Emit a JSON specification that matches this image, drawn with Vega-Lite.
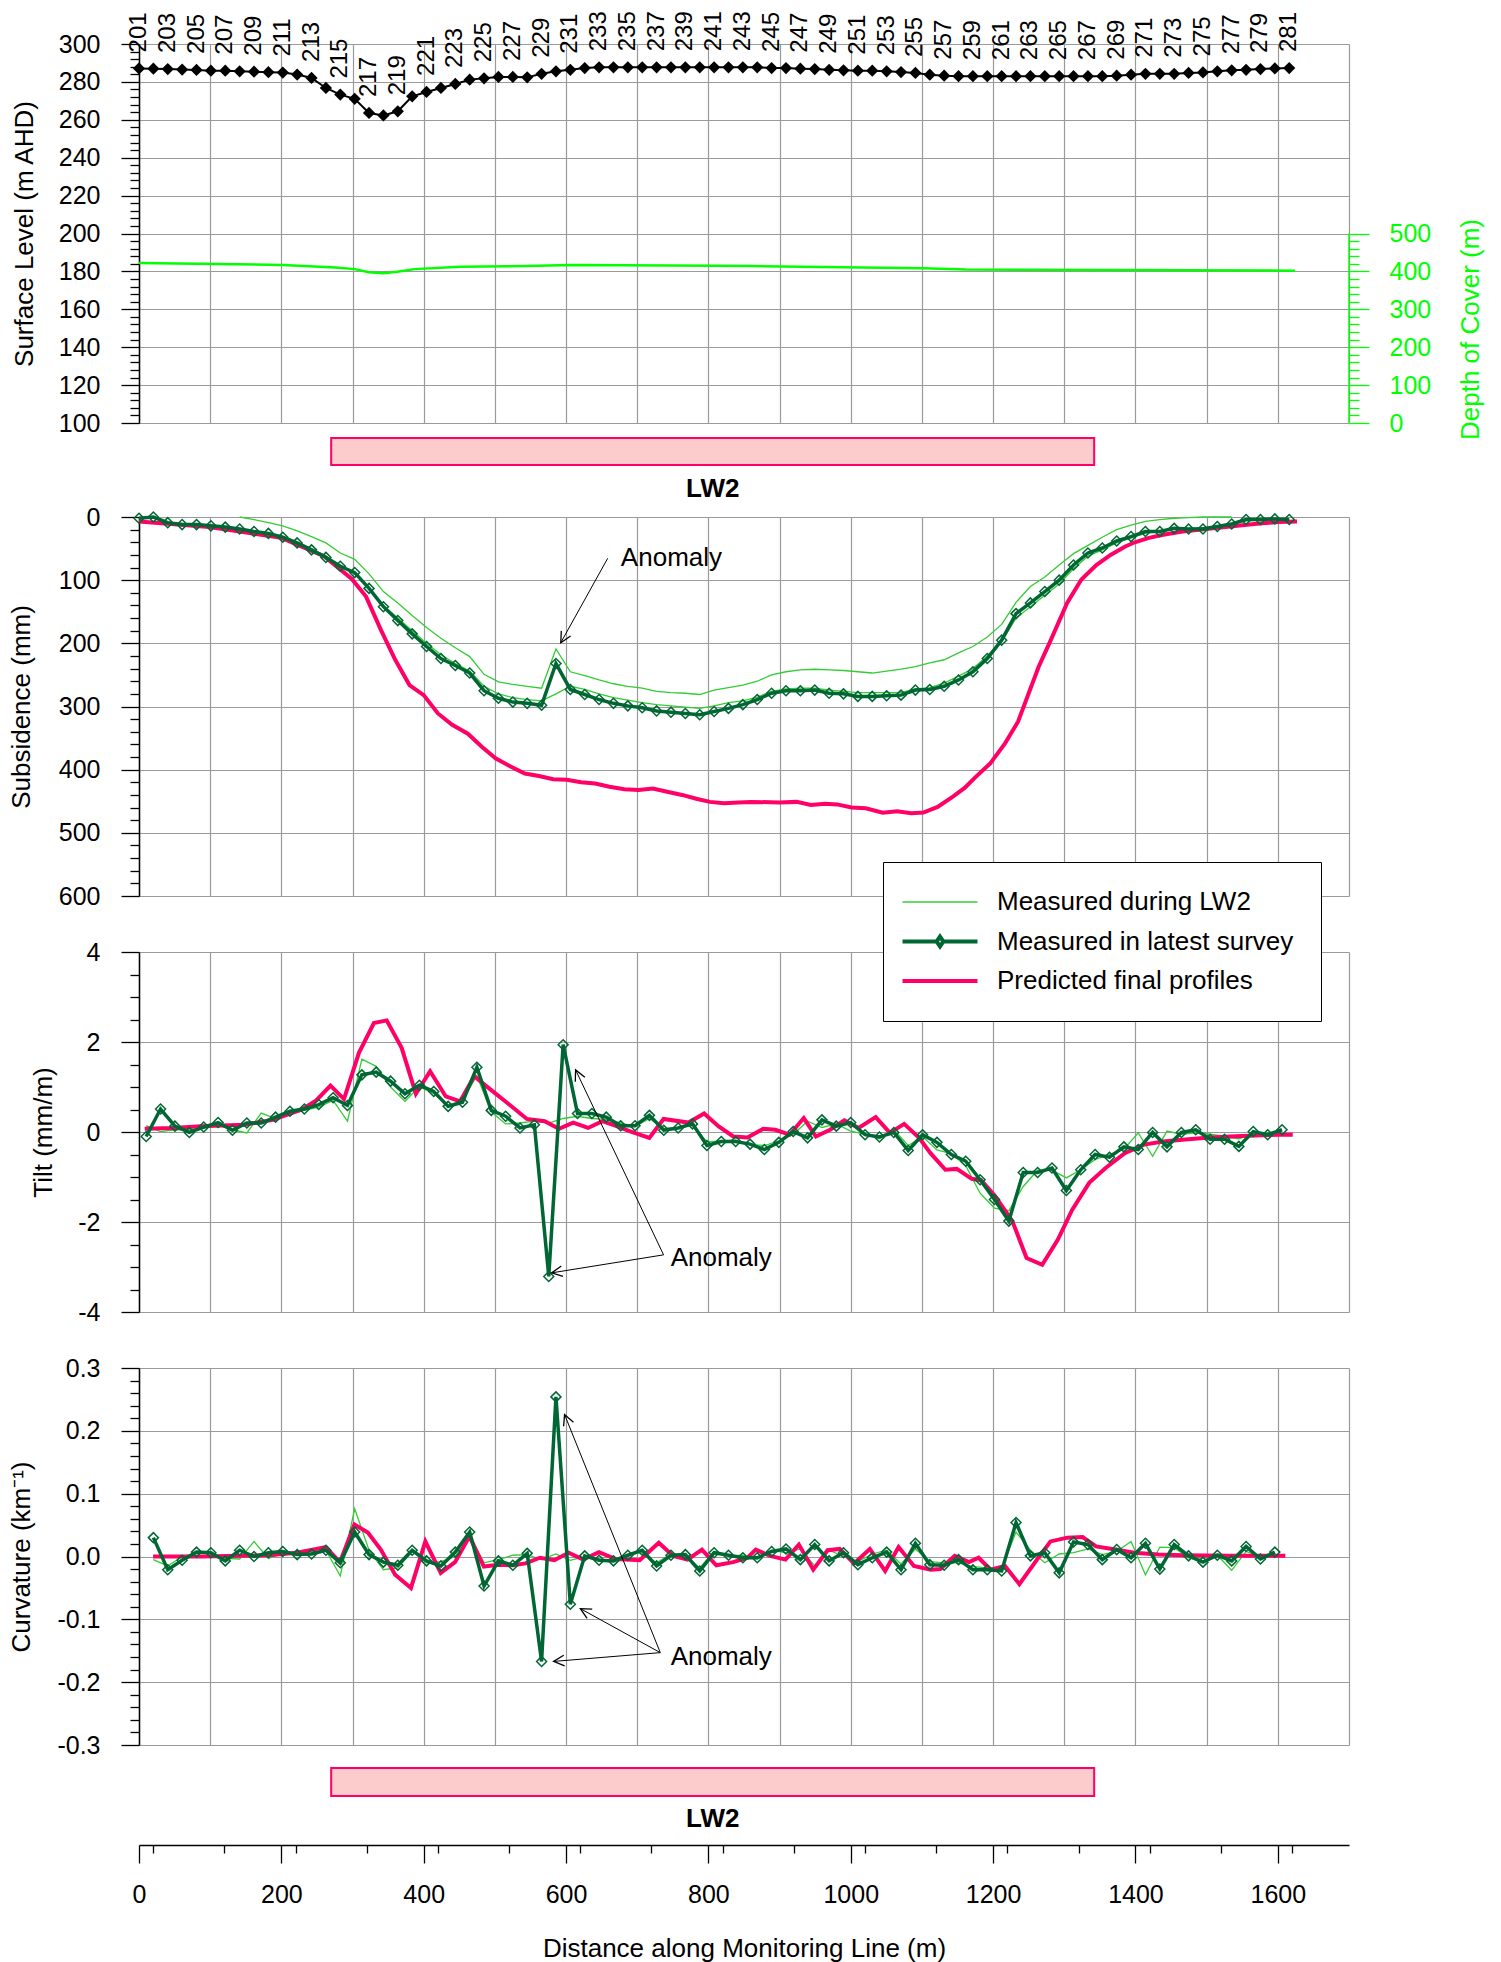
{
"$schema": "https://vega.github.io/schema/vega-lite/v6.json",
"autosize": {"type": "pad"},
"padding": {"left": 8, "top": 11, "right": 5, "bottom": 2},
"background": "white",
"bounds": "flush",
"spacing": 0,
"config": {
  "view": {"stroke": null},
  "font": "Liberation Sans",
  "axis": {"labelFont": "Liberation Sans", "titleFont": "Liberation Sans", "labelFontSize": 25, "titleFontSize": 26, "titleFontWeight": "normal", "labelColor": "#000000", "titleColor": "#000000", "gridColor": "#9a9a9a", "gridWidth": 1.2, "gridOpacity": 1, "tickColor": "#000000", "tickWidth": 1.3, "domainColor": "#000000", "domainWidth": 1.5, "labelFlush": false, "labelOverlap": false},
  "axisX": {"grid": true, "labels": false, "ticks": false, "domain": false, "tickCount": 17},
  "text": {"font": "Liberation Sans"}
},
"datasets": {
  "pts": [
    {"pt":201,"x":0,"level":287.1,"sub":2,"subA":null,"subB":8},
    {"pt":202,"x":20.2,"level":287.0,"sub":0,"subA":null,"subB":9},
    {"pt":203,"x":40.4,"level":286.8,"sub":9,"subA":null,"subB":10},
    {"pt":204,"x":60.6,"level":286.5,"sub":12,"subA":null,"subB":11},
    {"pt":205,"x":80.8,"level":286.3,"sub":12,"subA":null,"subB":12},
    {"pt":206,"x":101,"level":285.9,"sub":14,"subA":null,"subB":13},
    {"pt":207,"x":121.2,"level":285.9,"sub":16,"subA":null,"subB":15},
    {"pt":208,"x":141.4,"level":285.6,"sub":19,"subA":0,"subB":18},
    {"pt":209,"x":161.6,"level":285.4,"sub":23,"subA":4,"subB":22},
    {"pt":210,"x":181.8,"level":285.1,"sub":26,"subA":9,"subB":26},
    {"pt":211,"x":202,"level":284.9,"sub":32,"subA":14,"subB":32},
    {"pt":212,"x":222.2,"level":283.9,"sub":41,"subA":22,"subB":40},
    {"pt":213,"x":242.4,"level":282.1,"sub":52,"subA":31,"subB":50},
    {"pt":214,"x":262.6,"level":276.8,"sub":64,"subA":41,"subB":62},
    {"pt":215,"x":282.8,"level":273.3,"sub":78,"subA":57,"subB":76},
    {"pt":216,"x":303,"level":271.1,"sub":88,"subA":67,"subB":90},
    {"pt":217,"x":323.2,"level":263.6,"sub":113,"subA":90,"subB":112},
    {"pt":218,"x":343.4,"level":262.3,"sub":142,"subA":118,"subB":140},
    {"pt":219,"x":363.6,"level":264.5,"sub":164,"subA":136,"subB":160},
    {"pt":220,"x":383.8,"level":272.4,"sub":185,"subA":156,"subB":180},
    {"pt":221,"x":404,"level":274.7,"sub":205,"subA":175,"subB":200},
    {"pt":222,"x":424.2,"level":276.8,"sub":224,"subA":192,"subB":218},
    {"pt":223,"x":444.4,"level":278.9,"sub":235,"subA":207,"subB":232},
    {"pt":224,"x":464.6,"level":281.2,"sub":247,"subA":221,"subB":244},
    {"pt":225,"x":484.8,"level":281.9,"sub":275,"subA":249,"subB":268},
    {"pt":226,"x":505,"level":282.6,"sub":287,"subA":261,"subB":280},
    {"pt":227,"x":525.2,"level":282.6,"sub":293,"subA":265,"subB":286},
    {"pt":228,"x":545.4,"level":282.4,"sub":295,"subA":268,"subB":289},
    {"pt":229,"x":565.6,"level":284.3,"sub":298,"subA":271,"subB":291},
    {"pt":230,"x":585.8,"level":285.6,"sub":232,"subA":209,"subB":280},
    {"pt":231,"x":606,"level":286.4,"sub":273,"subA":245,"subB":268},
    {"pt":232,"x":626.2,"level":287.3,"sub":281,"subA":251,"subB":273},
    {"pt":233,"x":646.4,"level":287.7,"sub":289,"subA":258,"subB":280},
    {"pt":234,"x":666.6,"level":287.7,"sub":295,"subA":264,"subB":286},
    {"pt":235,"x":686.8,"level":287.7,"sub":299,"subA":268,"subB":290},
    {"pt":236,"x":707,"level":287.7,"sub":302,"subA":271,"subB":294},
    {"pt":237,"x":727.2,"level":287.7,"sub":307,"subA":276,"subB":297},
    {"pt":238,"x":747.4,"level":287.7,"sub":309,"subA":278,"subB":299},
    {"pt":239,"x":767.6,"level":287.7,"sub":311,"subA":279,"subB":301},
    {"pt":240,"x":787.8,"level":287.7,"sub":313,"subA":281,"subB":303},
    {"pt":241,"x":808,"level":287.7,"sub":308,"subA":274,"subB":299},
    {"pt":242,"x":828.2,"level":287.7,"sub":303,"subA":270,"subB":294},
    {"pt":243,"x":848.4,"level":287.7,"sub":297,"subA":266,"subB":291},
    {"pt":244,"x":868.6,"level":287.7,"sub":289,"subA":260,"subB":285},
    {"pt":245,"x":888.8,"level":287.3,"sub":279,"subA":250,"subB":276},
    {"pt":246,"x":909,"level":287.3,"sub":275,"subA":245,"subB":272},
    {"pt":247,"x":929.2,"level":287.0,"sub":275,"subA":242,"subB":271},
    {"pt":248,"x":949.4,"level":286.8,"sub":274,"subA":241,"subB":271},
    {"pt":249,"x":969.6,"level":286.4,"sub":279,"subA":242,"subB":274},
    {"pt":250,"x":989.8,"level":286.1,"sub":280,"subA":243,"subB":276},
    {"pt":251,"x":1010,"level":285.9,"sub":284,"subA":245,"subB":278},
    {"pt":252,"x":1030.2,"level":285.9,"sub":284,"subA":247,"subB":278},
    {"pt":253,"x":1050.4,"level":285.6,"sub":283,"subA":244,"subB":278},
    {"pt":254,"x":1070.6,"level":285.2,"sub":282,"subA":241,"subB":278},
    {"pt":255,"x":1090.8,"level":284.7,"sub":274,"subA":237,"subB":272},
    {"pt":256,"x":1111,"level":283.8,"sub":273,"subA":231,"subB":270},
    {"pt":257,"x":1131.2,"level":283.3,"sub":268,"subA":226,"subB":263},
    {"pt":258,"x":1151.4,"level":283.0,"sub":258,"subA":215,"subB":252},
    {"pt":259,"x":1171.6,"level":283.0,"sub":245,"subA":205,"subB":240},
    {"pt":260,"x":1191.8,"level":283.0,"sub":224,"subA":190,"subB":220},
    {"pt":261,"x":1212,"level":283.0,"sub":195,"subA":170,"subB":197},
    {"pt":262,"x":1232.2,"level":283.0,"sub":153,"subA":135,"subB":160},
    {"pt":263,"x":1252.4,"level":283.0,"sub":136,"subA":110,"subB":142},
    {"pt":264,"x":1272.6,"level":283.0,"sub":118,"subA":95,"subB":124},
    {"pt":265,"x":1292.8,"level":283.0,"sub":100,"subA":76,"subB":106},
    {"pt":266,"x":1313,"level":283.0,"sub":76,"subA":58,"subB":82},
    {"pt":267,"x":1333.2,"level":283.0,"sub":57,"subA":45,"subB":62},
    {"pt":268,"x":1353.4,"level":283.0,"sub":49,"subA":32,"subB":52},
    {"pt":269,"x":1373.6,"level":283.3,"sub":38,"subA":20,"subB":41},
    {"pt":270,"x":1393.8,"level":283.8,"sub":31,"subA":13,"subB":33},
    {"pt":271,"x":1414,"level":284.3,"sub":23,"subA":7,"subB":26},
    {"pt":272,"x":1434.2,"level":284.3,"sub":23,"subA":4,"subB":22},
    {"pt":273,"x":1454.4,"level":284.3,"sub":18,"subA":2,"subB":19},
    {"pt":274,"x":1474.6,"level":284.7,"sub":19,"subA":1,"subB":18},
    {"pt":275,"x":1494.8,"level":285.0,"sub":19,"subA":0,"subB":17},
    {"pt":276,"x":1515,"level":285.6,"sub":15,"subA":0,"subB":14},
    {"pt":277,"x":1535.2,"level":286.1,"sub":11,"subA":0,"subB":10},
    {"pt":278,"x":1555.4,"level":286.4,"sub":4,"subA":null,"subB":6},
    {"pt":279,"x":1575.6,"level":286.8,"sub":4,"subA":null,"subB":5},
    {"pt":280,"x":1595.8,"level":287.1,"sub":3,"subA":null,"subB":4},
    {"pt":281,"x":1616,"level":287.3,"sub":4,"subA":null,"subB":4}
  ],
  "depth": [
    {"x":0,"d":422},{"x":202,"d":417},{"x":276,"d":410},{"x":303,"d":406},{"x":323,"d":398},{"x":343,"d":395},{"x":363,"d":399},{"x":387,"d":406},{"x":451,"d":412},{"x":545,"d":414},{"x":606,"d":417},{"x":814,"d":415},{"x":860,"d":414},{"x":1102,"d":408},{"x":1162,"d":405},{"x":1624,"d":402}
  ],
  "depthAxis": [{"x": 1700, "lo": 0, "hi": 500}],
  "subPred": [
    {"x":0,"v":7},{"x":99,"v":16},{"x":200,"v":33},{"x":260,"v":62},{"x":299,"v":98},{"x":319,"v":126},{"x":340,"v":179},{"x":360,"v":226},{"x":380,"v":266},{"x":400,"v":282},{"x":420,"v":311},{"x":440,"v":329},{"x":462,"v":343},{"x":482,"v":364},{"x":501,"v":382},{"x":522,"v":395},{"x":542,"v":406},{"x":562,"v":410},{"x":582,"v":415},{"x":601,"v":416},{"x":621,"v":420},{"x":641,"v":422},{"x":661,"v":427},{"x":682,"v":431},{"x":702,"v":432},{"x":722,"v":430},{"x":742,"v":435},{"x":763,"v":440},{"x":783,"v":446},{"x":802,"v":451},{"x":822,"v":453},{"x":842,"v":452},{"x":860,"v":451},{"x":900,"v":452},{"x":924,"v":451},{"x":944,"v":456},{"x":964,"v":454},{"x":981,"v":455},{"x":1001,"v":460},{"x":1021,"v":461},{"x":1045,"v":468},{"x":1065,"v":466},{"x":1085,"v":469},{"x":1102,"v":468},{"x":1122,"v":459},{"x":1143,"v":443},{"x":1160,"v":429},{"x":1176,"v":411},{"x":1196,"v":390},{"x":1217,"v":358},{"x":1235,"v":324},{"x":1250,"v":279},{"x":1264,"v":237},{"x":1281,"v":195},{"x":1304,"v":136},{"x":1324,"v":99},{"x":1345,"v":76},{"x":1365,"v":60},{"x":1385,"v":47},{"x":1399,"v":40},{"x":1419,"v":33},{"x":1439,"v":28},{"x":1466,"v":23},{"x":1499,"v":19},{"x":1533,"v":15},{"x":1567,"v":11},{"x":1600,"v":8},{"x":1627,"v":7}
  ],
  "mid": [
    {"x":10.1,"tilt":-0.10,"tiltB":0.14},{"x":30.3,"tilt":0.51,"tiltB":0.01},{"x":50.5,"tilt":0.13,"tiltB":0.05},{"x":70.7,"tilt":-0.01,"tiltB":0.05},{"x":90.9,"tilt":0.11,"tiltB":0.08},{"x":111.1,"tilt":0.21,"tiltB":0.15},{"x":131.3,"tilt":0.04,"tiltB":0.05},{"x":151.5,"tilt":0.20,"tiltB":-0.02},{"x":171.7,"tilt":0.20,"tiltB":0.42},{"x":191.9,"tilt":0.33,"tiltB":0.30},
    {"x":212.1,"tilt":0.46,"tiltB":0.40},{"x":232.3,"tilt":0.51,"tiltB":0.48},{"x":252.5,"tilt":0.61,"tiltB":0.55},{"x":272.7,"tilt":0.76,"tiltB":0.70},{"x":292.9,"tilt":0.59,"tiltB":0.24},{"x":313.1,"tilt":1.27,"tiltB":1.62},{"x":333.3,"tilt":1.33,"tiltB":1.46},{"x":353.5,"tilt":1.13,"tiltB":1.00},{"x":373.7,"tilt":0.85,"tiltB":0.68},{"x":393.9,"tilt":1.04,"tiltB":1.01},
    {"x":414.1,"tilt":0.90,"tiltB":0.85},{"x":434.3,"tilt":0.57,"tiltB":0.60},{"x":454.5,"tilt":0.66,"tiltB":0.70},{"x":474.7,"tilt":1.44,"tiltB":1.25},{"x":494.9,"tilt":0.48,"tiltB":0.45},{"x":515.1,"tilt":0.35,"tiltB":0.18},{"x":535.3,"tilt":0.09,"tiltB":0.20},{"x":555.5,"tilt":0.16,"tiltB":0.24},{"x":575.7,"tilt":-3.21,"tiltB":0.20},{"x":595.9,"tilt":1.94,"tiltB":0.30},
    {"x":616.1,"tilt":0.41,"tiltB":0.35},{"x":636.3,"tilt":0.41,"tiltB":0.30},{"x":656.5,"tilt":0.33,"tiltB":0.28},{"x":676.7,"tilt":0.14,"tiltB":0.20},{"x":696.9,"tilt":0.14,"tiltB":0.12},{"x":717.1,"tilt":0.37,"tiltB":0.30},{"x":737.3,"tilt":0.04,"tiltB":0.08},{"x":757.5,"tilt":0.09,"tiltB":0.10},{"x":777.7,"tilt":0.18,"tiltB":0.15},{"x":797.9,"tilt":-0.30,"tiltB":-0.22},
    {"x":818.1,"tilt":-0.21,"tiltB":-0.20},{"x":838.3,"tilt":-0.21,"tiltB":-0.18},{"x":858.5,"tilt":-0.27,"tiltB":-0.28},{"x":878.7,"tilt":-0.39,"tiltB":-0.30},{"x":898.9,"tilt":-0.23,"tiltB":-0.20},{"x":919.1,"tilt":0.01,"tiltB":-0.05},{"x":939.3,"tilt":-0.13,"tiltB":0.24},{"x":959.5,"tilt":0.27,"tiltB":0.10},{"x":979.7,"tilt":0.13,"tiltB":0.18},{"x":999.9,"tilt":0.21,"tiltB":0.02},
    {"x":1020.1,"tilt":-0.06,"tiltB":-0.05},{"x":1040.3,"tilt":-0.11,"tiltB":-0.15},{"x":1060.5,"tilt":-0.01,"tiltB":0.05},{"x":1080.7,"tilt":-0.41,"tiltB":-0.30},{"x":1100.9,"tilt":-0.06,"tiltB":-0.10},{"x":1121.1,"tilt":-0.23,"tiltB":-0.40},{"x":1141.3,"tilt":-0.50,"tiltB":-0.48},{"x":1161.5,"tilt":-0.65,"tiltB":-0.75},{"x":1181.7,"tilt":-1.06,"tiltB":-1.36},{"x":1201.9,"tilt":-1.50,"tiltB":-1.69},
    {"x":1222.1,"tilt":-1.98,"tiltB":-1.75},{"x":1242.3,"tilt":-0.90,"tiltB":-1.21},{"x":1262.5,"tilt":-0.90,"tiltB":-0.85},{"x":1282.7,"tilt":-0.80,"tiltB":-0.85},{"x":1302.9,"tilt":-1.30,"tiltB":-1.02},{"x":1323.1,"tilt":-0.84,"tiltB":-0.84},{"x":1343.3,"tilt":-0.50,"tiltB":-0.61},{"x":1363.5,"tilt":-0.56,"tiltB":-0.50},{"x":1383.7,"tilt":-0.33,"tiltB":-0.38},{"x":1403.9,"tilt":-0.39,"tiltB":-0.02},
    {"x":1424.1,"tilt":-0.01,"tiltB":-0.54},{"x":1444.3,"tilt":-0.33,"tiltB":0.02},{"x":1464.5,"tilt":-0.01,"tiltB":-0.05},{"x":1484.7,"tilt":0.05,"tiltB":-0.02},{"x":1504.9,"tilt":-0.16,"tiltB":-0.05},{"x":1525.1,"tilt":-0.16,"tiltB":-0.10},{"x":1545.3,"tilt":-0.32,"tiltB":-0.15},{"x":1565.5,"tilt":0.01,"tiltB":-0.05},{"x":1585.7,"tilt":-0.06,"tiltB":-0.02},{"x":1605.9,"tilt":0.05,"tiltB":0.02}
  ],
  "tiltPred": [
    {"x":8,"v":0.07},{"x":47,"v":0.09},{"x":87,"v":0.13},{"x":148,"v":0.16},{"x":188,"v":0.27},{"x":229,"v":0.50},{"x":249,"v":0.70},{"x":269,"v":1.03},{"x":288,"v":0.73},{"x":309,"v":1.76},{"x":330,"v":2.42},{"x":348,"v":2.48},{"x":369,"v":1.87},{"x":389,"v":0.85},{"x":409,"v":1.35},{"x":431,"v":0.79},{"x":451,"v":0.68},{"x":471,"v":1.24},{"x":491,"v":0.98},{"x":518,"v":0.64},{"x":545,"v":0.29},{"x":570,"v":0.24},{"x":590,"v":0.07},{"x":610,"v":0.21},{"x":631,"v":0.09},{"x":651,"v":0.24},{"x":671,"v":0.13},{"x":691,"v":0.01},{"x":717,"v":-0.13},{"x":737,"v":0.29},{"x":772,"v":0.21},{"x":794,"v":0.41},{"x":814,"v":0.13},{"x":835,"v":-0.10},{"x":855,"v":-0.12},{"x":877,"v":0.07},{"x":894,"v":0.05},{"x":914,"v":-0.06},{"x":934,"v":0.31},{"x":951,"v":-0.10},{"x":971,"v":0.05},{"x":991,"v":0.26},{"x":1011,"v":0.09},{"x":1035,"v":0.33},{"x":1055,"v":-0.02},{"x":1075,"v":0.18},{"x":1096,"v":-0.13},{"x":1112,"v":-0.47},{"x":1133,"v":-0.84},{"x":1149,"v":-0.82},{"x":1170,"v":-1.04},{"x":1183,"v":-1.07},{"x":1203,"v":-1.43},{"x":1227,"v":-1.98},{"x":1247,"v":-2.80},{"x":1269,"v":-2.95},{"x":1291,"v":-2.39},{"x":1311,"v":-1.73},{"x":1335,"v":-1.13},{"x":1358,"v":-0.80},{"x":1385,"v":-0.47},{"x":1412,"v":-0.28},{"x":1439,"v":-0.21},{"x":1466,"v":-0.17},{"x":1500,"v":-0.13},{"x":1533,"v":-0.10},{"x":1567,"v":-0.08},{"x":1601,"v":-0.06},{"x":1621,"v":-0.06}
  ],
  "inner": [
    {"x":20.2,"curv":0.030,"curvB":-0.005},{"x":40.4,"curv":-0.021,"curvB":-0.015},{"x":60.6,"curv":-0.006,"curvB":0.000},{"x":80.8,"curv":0.007,"curvB":0.005},{"x":101,"curv":0.006,"curvB":0.005},{"x":121.2,"curv":-0.007,"curvB":-0.003},{"x":141.4,"curv":0.010,"curvB":-0.004},{"x":161.6,"curv":0.000,"curvB":0.024},{"x":181.8,"curv":0.006,"curvB":-0.003},{"x":202,"curv":0.008,"curvB":0.005},
    {"x":222.2,"curv":0.003,"curvB":0.004},{"x":242.4,"curv":0.004,"curvB":0.006},{"x":262.6,"curv":0.010,"curvB":0.010},{"x":282.8,"curv":-0.010,"curvB":-0.031},{"x":303,"curv":0.039,"curvB":0.076},{"x":323.2,"curv":0.003,"curvB":0.010},{"x":343.4,"curv":-0.009,"curvB":-0.021},{"x":363.6,"curv":-0.014,"curvB":-0.018},{"x":383.8,"curv":0.010,"curvB":0.008},{"x":404,"curv":-0.007,"curvB":-0.010},
    {"x":424.2,"curv":-0.015,"curvB":-0.008},{"x":444.4,"curv":0.007,"curvB":0.000},{"x":464.6,"curv":0.039,"curvB":0.032},{"x":484.8,"curv":-0.047,"curvB":-0.010},{"x":505,"curv":-0.007,"curvB":-0.005},{"x":525.2,"curv":-0.014,"curvB":0.002},{"x":545.4,"curv":0.005,"curvB":0.003},{"x":565.6,"curv":-0.167,"curvB":-0.005},{"x":585.8,"curv":0.254,"curvB":0.004},{"x":606,"curv":-0.076,"curvB":-0.006},
    {"x":626.2,"curv":0.001,"curvB":0.000},{"x":646.4,"curv":-0.006,"curvB":-0.004},{"x":666.6,"curv":-0.007,"curvB":-0.008},{"x":686.8,"curv":0.002,"curvB":0.003},{"x":707,"curv":0.010,"curvB":0.006},{"x":727.2,"curv":-0.015,"curvB":-0.010},{"x":747.4,"curv":0.002,"curvB":0.004},{"x":767.6,"curv":0.003,"curvB":0.000},{"x":787.8,"curv":-0.023,"curvB":-0.018},{"x":808,"curv":0.006,"curvB":0.008},
    {"x":828.2,"curv":0.002,"curvB":0.001},{"x":848.4,"curv":-0.002,"curvB":0.002},{"x":868.6,"curv":-0.002,"curvB":-0.004},{"x":888.8,"curv":0.008,"curvB":0.010},{"x":909,"curv":0.012,"curvB":0.006},{"x":929.2,"curv":-0.005,"curvB":0.012},{"x":949.4,"curv":0.019,"curvB":-0.015},{"x":969.6,"curv":-0.007,"curvB":0.010},{"x":989.8,"curv":0.006,"curvB":0.000},{"x":1010,"curv":-0.013,"curvB":-0.008},
    {"x":1030.2,"curv":-0.002,"curvB":0.004},{"x":1050.4,"curv":0.007,"curvB":0.010},{"x":1070.6,"curv":-0.021,"curvB":-0.012},{"x":1090.8,"curv":0.021,"curvB":0.012},{"x":1111,"curv":-0.013,"curvB":-0.008},{"x":1131.2,"curv":-0.014,"curvB":-0.010},{"x":1151.4,"curv":-0.005,"curvB":-0.010},{"x":1171.6,"curv":-0.021,"curvB":-0.016},{"x":1191.8,"curv":-0.021,"curvB":-0.018},{"x":1212,"curv":-0.023,"curvB":-0.018},
    {"x":1232.2,"curv":0.054,"curvB":0.039},{"x":1252.4,"curv":0.001,"curvB":0.010},{"x":1272.6,"curv":0.006,"curvB":-0.010},{"x":1292.8,"curv":-0.026,"curvB":0.004},{"x":1313,"curv":0.023,"curvB":0.006},{"x":1333.2,"curv":0.019,"curvB":0.012},{"x":1353.4,"curv":-0.005,"curvB":0.003},{"x":1373.6,"curv":0.011,"curvB":0.008},{"x":1393.8,"curv":-0.002,"curvB":0.024},{"x":1414,"curv":0.021,"curvB":-0.029},
    {"x":1434.2,"curv":-0.020,"curvB":0.015},{"x":1454.4,"curv":0.019,"curvB":0.014},{"x":1474.6,"curv":0.001,"curvB":-0.002},{"x":1494.8,"curv":-0.009,"curvB":-0.002},{"x":1515,"curv":0.002,"curvB":0.002},{"x":1535.2,"curv":-0.007,"curvB":-0.022},{"x":1555.4,"curv":0.016,"curvB":0.008},{"x":1575.6,"curv":-0.004,"curvB":0.000},{"x":1595.8,"curv":0.007,"curvB":0.004}
  ],
  "curvPred": [
    {"x":19.8,"v":0},{"x":87,"v":0},{"x":181,"v":0.002},{"x":221.8,"v":0.006},{"x":262.3,"v":0.015},{"x":282.4,"v":-0.009},{"x":302.6,"v":0.051},{"x":321.5,"v":0.038},{"x":339.7,"v":0.011},{"x":359.9,"v":-0.029},{"x":382.1,"v":-0.050},{"x":402.3,"v":0.024},{"x":423.9,"v":-0.026},{"x":444,"v":-0.009},{"x":464.3,"v":0.032},{"x":484.5,"v":-0.016},{"x":504.7,"v":-0.013},{"x":524.9,"v":-0.014},{"x":543.1,"v":-0.011},{"x":563.3,"v":-0.002},{"x":583.5,"v":-0.006},{"x":603.7,"v":0.006},{"x":623.9,"v":-0.005},{"x":646.2,"v":0.007},{"x":669.7,"v":-0.004},{"x":703.4,"v":-0.006},{"x":730.3,"v":0.022},{"x":750.5,"v":0.001},{"x":770.7,"v":-0.005},{"x":790.9,"v":0.011},{"x":811.1,"v":-0.014},{"x":834.7,"v":-0.009},{"x":854.9,"v":-0.002},{"x":866.5,"v":0.011},{"x":886.7,"v":0.001},{"x":908.3,"v":-0.005},{"x":927.1,"v":0.019},{"x":947.3,"v":-0.021},{"x":967.5,"v":0.010},{"x":984.4,"v":0.012},{"x":1004.6,"v":-0.011},{"x":1026.8,"v":0.012},{"x":1048.3,"v":-0.023},{"x":1067.2,"v":0.015},{"x":1088.7,"v":-0.015},{"x":1112.3,"v":-0.021},{"x":1125.8,"v":-0.020},{"x":1146,"v":0.001},{"x":1166.2,"v":-0.009},{"x":1179.6,"v":-0.002},{"x":1196.5,"v":-0.021},{"x":1216.7,"v":-0.015},{"x":1236.9,"v":-0.044},{"x":1260.4,"v":-0.007},{"x":1280.6,"v":0.024},{"x":1304.2,"v":0.030},{"x":1325.7,"v":0.031},{"x":1344.6,"v":0.016},{"x":1371.5,"v":0.011},{"x":1398.4,"v":0.006},{"x":1432.1,"v":0.003},{"x":1465.8,"v":0.002},{"x":1533.1,"v":0.001},{"x":1610.5,"v":0.001}
  ],
  "lw": [{"start": 270, "end": 1342, "mid": 806, "name": "LW2", "lo": 0, "hi": 1, "c": 0.5}],
  "blank": [{"x": 0, "y": 0}]
},
"vconcat": [
  {
    "width": 1210, "height": 379,
    "layer": [
      {"data": {"name": "pts"}, "mark": {"type": "line", "color": "black", "strokeWidth": 2},
       "encoding": {
         "x": {"field": "x", "type": "quantitative", "title": null, "scale": {"domain": [0, 1700], "nice": false, "zero": false}},
         "y": {"field": "level", "type": "quantitative", "title": "Surface Level (m AHD)", "scale": {"domain": [100, 300], "nice": false, "zero": false},
               "axis": {"orient": "left", "values": [100,120,140,160,180,200,220,240,260,280,300], "format": "d", "tickSize": 18, "labelPadding": 21, "grid": true, "titleX": -115, "titleY": 189.5, "titleAngle": 270, "titleAlign": "center", "titleBaseline": "middle"}}}},
      {"data": {"name": "pts"}, "mark": {"type": "point", "shape": "diamond", "filled": true, "color": "black", "size": 150, "opacity": 1},
       "encoding": {
         "x": {"field": "x", "type": "quantitative", "title": null, "scale": {"domain": [0, 1700], "nice": false, "zero": false}},
         "y": {"field": "level", "type": "quantitative", "title": null, "scale": {"domain": [100, 300], "nice": false, "zero": false},
               "axis": {"orient": "left", "values": [104,108,112,116,124,128,132,136,144,148,152,156,164,168,172,176,184,188,192,196,204,208,212,216,224,228,232,236,244,248,252,256,264,268,272,276,284,288,292,296], "tickSize": 9, "labels": false, "grid": false, "domain": false}}}},
      {"data": {"name": "pts"}, "transform": [{"filter": "datum.pt % 2 === 1"}],
       "mark": {"type": "text", "angle": 270, "align": "left", "baseline": "middle", "dx": 16, "fontSize": 24, "color": "black"},
       "encoding": {
         "x": {"field": "x", "type": "quantitative", "title": null, "scale": {"domain": [0, 1700], "nice": false, "zero": false}},
         "y": {"field": "level", "type": "quantitative", "title": null, "scale": {"domain": [100, 300], "nice": false, "zero": false}, "axis": null},
         "text": {"field": "pt", "type": "nominal"}}},
      {"data": {"name": "depth"}, "mark": {"type": "line", "color": "#00ff00", "strokeWidth": 2.5},
       "encoding": {
         "x": {"field": "x", "type": "quantitative", "title": null, "scale": {"domain": [0, 1700], "nice": false, "zero": false}},
         "y": {"field": "d", "type": "quantitative", "title": "Depth of Cover (m)", "scale": {"domain": [0, 1000], "nice": false, "zero": false},
               "axis": {"orient": "right", "values": [0,100,200,300,400,500], "format": "d", "tickSize": 20, "labelPadding": 20, "tickColor": "#00ff00", "labelColor": "#00ff00", "titleColor": "#00ff00", "domain": false, "grid": false, "titleX": 121, "titleY": 285, "titleAngle": 270, "titleAlign": "center", "titleBaseline": "middle"}}}},
      {"data": {"name": "depthAxis"}, "mark": {"type": "rule", "color": "#00ff00", "strokeWidth": 1.5},
       "encoding": {
         "x": {"field": "x", "type": "quantitative", "title": null, "scale": {"domain": [0, 1700], "nice": false, "zero": false}},
         "y": {"field": "lo", "type": "quantitative", "title": null, "scale": {"domain": [0, 1000], "nice": false, "zero": false},
               "axis": {"orient": "right", "values": [20,40,60,80,120,140,160,180,220,240,260,280,320,340,360,380,420,440,460,480], "tickSize": 10, "tickColor": "#00ff00", "labels": false, "grid": false, "domain": false}},
         "y2": {"field": "hi"}}}
    ],
    "resolve": {"scale": {"y": "independent"}, "axis": {"y": "independent"}}
  },
  {"width": 1210, "height": 15, "data": {"name": "blank"}, "mark": {"type": "point", "opacity": 0},
   "encoding": {"x": {"field": "x", "type": "quantitative", "axis": null}, "y": {"field": "y", "type": "quantitative", "axis": null}}},
  {
    "width": 1210, "height": 27, "data": {"name": "lw"},
    "layer": [
      {"mark": {"type": "rect", "fill": "#fccccc", "stroke": "#ff0066", "strokeWidth": 2},
       "encoding": {"x": {"field": "start", "type": "quantitative", "title": null, "scale": {"domain": [0, 1700], "nice": false, "zero": false}, "axis": null}, "x2": {"field": "end"},
                    "y": {"field": "lo", "type": "quantitative", "title": null, "scale": {"domain": [0, 1], "nice": false, "zero": false}, "axis": null}, "y2": {"field": "hi"}}},
      {"mark": {"type": "text", "dy": 37, "fontSize": 26, "fontWeight": "bold", "color": "black", "align": "center", "baseline": "middle"},
       "encoding": {"x": {"field": "mid", "type": "quantitative", "title": null, "scale": {"domain": [0, 1700], "nice": false, "zero": false}, "axis": null},
                    "y": {"field": "c", "type": "quantitative", "title": null, "scale": {"domain": [0, 1], "nice": false, "zero": false}, "axis": null},
                    "text": {"field": "name"}}}
    ]
  },
  {"width": 1210, "height": 52, "data": {"name": "blank"}, "mark": {"type": "point", "opacity": 0},
   "encoding": {"x": {"field": "x", "type": "quantitative", "axis": null}, "y": {"field": "y", "type": "quantitative", "axis": null}}},
  {
    "width": 1210, "height": 379,
    "layer": [
      {"data": {"name": "pts"}, "mark": {"type": "line", "color": "#33cc33", "strokeWidth": 1.3},
       "encoding": {
         "x": {"field": "x", "type": "quantitative", "title": null, "scale": {"domain": [0, 1700], "nice": false, "zero": false}},
         "y": {"field": "subA", "type": "quantitative", "title": "Subsidence (mm)", "scale": {"domain": [0, 600], "reverse": true, "nice": false, "zero": false},
               "axis": {"orient": "left", "values": [0,100,200,300,400,500,600], "format": "d", "tickSize": 18, "labelPadding": 21, "grid": true, "titleX": -117.5, "titleY": 189.5, "titleAngle": 270, "titleAlign": "center", "titleBaseline": "middle"}}}},
      {"data": {"name": "pts"}, "mark": {"type": "line", "color": "#33cc33", "strokeWidth": 1.3},
       "encoding": {
         "x": {"field": "x", "type": "quantitative", "title": null, "scale": {"domain": [0, 1700], "nice": false, "zero": false}},
         "y": {"field": "subB", "type": "quantitative", "title": null, "scale": {"domain": [0, 600], "reverse": true, "nice": false, "zero": false},
               "axis": {"orient": "left", "values": [20,40,60,80,120,140,160,180,220,240,260,280,320,340,360,380,420,440,460,480,520,540,560,580], "tickSize": 9, "labels": false, "grid": false, "domain": false}}}},
      {"data": {"name": "subPred"}, "mark": {"type": "line", "color": "#ff0066", "strokeWidth": 4},
       "encoding": {
         "x": {"field": "x", "type": "quantitative", "title": null, "scale": {"domain": [0, 1700], "nice": false, "zero": false}},
         "y": {"field": "v", "type": "quantitative", "title": null, "scale": {"domain": [0, 600], "reverse": true, "nice": false, "zero": false}, "axis": null}}},
      {"data": {"name": "pts"}, "mark": {"type": "line", "strokeWidth": 3.5},
       "encoding": {
         "x": {"field": "x", "type": "quantitative", "title": null, "scale": {"domain": [0, 1700], "nice": false, "zero": false}},
         "y": {"field": "sub", "type": "quantitative", "title": null, "scale": {"domain": [0, 600], "reverse": true, "nice": false, "zero": false}, "axis": null},
         "color": {"datum": "Measured in latest survey", "type": "nominal",
                   "scale": {"domain": ["Measured during LW2", "Measured in latest survey", "Predicted final profiles"], "range": ["#33cc33", "#006633", "#ff0066"]},
                   "legend": {"orient": "none", "legendX": 744, "legendY": 818, "title": null, "symbolType": "M-1,0L1,0", "symbolSize": 5625, "symbolStrokeWidth": 4, "symbolFillColor": "white", "symbolOffset": 17,
                              "labelFontSize": 26, "labelFont": "Liberation Sans", "labelColor": "black", "labelLimit": 0, "labelOffset": 44,
                              "padding": 27, "strokeColor": "black", "fillColor": "white", "cornerRadius": 0, "rowPadding": 13.5,
                              "encode": {"symbols": {"update": {
                                 "strokeWidth": {"signal": "datum.value === 'Measured during LW2' ? 1.3 : 4"},
                                 "shape": {"signal": "datum.value === 'Measured in latest survey' ? 'M-1,0L-0.09,0M0.09,0L1,0M0,-0.13L0.09,0L0,0.13L-0.09,0Z' : 'M-1,0L1,0'"}}}}}}}},
      {"data": {"name": "pts"}, "mark": {"type": "point", "shape": "diamond", "filled": false, "color": "#006633", "strokeWidth": 1.5, "size": 100, "opacity": 1},
       "encoding": {
         "x": {"field": "x", "type": "quantitative", "title": null, "scale": {"domain": [0, 1700], "nice": false, "zero": false}},
         "y": {"field": "sub", "type": "quantitative", "title": null, "scale": {"domain": [0, 600], "reverse": true, "nice": false, "zero": false}, "axis": null}}},
      {"data": {"values": [{"xs": 658.5, "ys": 65.4, "xe": 592.6, "ye": 199}]}, "mark": {"type": "rule", "color": "black", "strokeWidth": 1},
       "encoding": {
         "x": {"field": "xs", "type": "quantitative", "title": null, "scale": {"domain": [0, 1700], "nice": false, "zero": false}},
         "y": {"field": "ys", "type": "quantitative", "title": null, "scale": {"domain": [0, 600], "reverse": true, "nice": false, "zero": false}, "axis": null},
         "x2": {"field": "xe"}, "y2": {"field": "ye"}}},
      {"data": {"values": [{"xe": 592.6, "ye": 199}]}, "mark": {"type": "point", "shape": "M-0.5,1L0,0L0.5,1", "filled": false, "color": "black", "strokeWidth": 1.3, "size": 450, "opacity": 1, "angle": 209},
       "encoding": {
         "x": {"field": "xe", "type": "quantitative", "title": null, "scale": {"domain": [0, 1700], "nice": false, "zero": false}},
         "y": {"field": "ye", "type": "quantitative", "title": null, "scale": {"domain": [0, 600], "reverse": true, "nice": false, "zero": false}, "axis": null}}},
      {"data": {"values": [{"x": 677, "y": 65, "label": "Anomaly"}]}, "mark": {"type": "text", "align": "left", "baseline": "middle", "fontSize": 26, "color": "black"},
       "encoding": {
         "x": {"field": "x", "type": "quantitative", "title": null, "scale": {"domain": [0, 1700], "nice": false, "zero": false}},
         "y": {"field": "y", "type": "quantitative", "title": null, "scale": {"domain": [0, 600], "reverse": true, "nice": false, "zero": false}, "axis": null},
         "text": {"field": "label"}}}
    ],
    "resolve": {"axis": {"y": "independent"}}
  },
  {"width": 1210, "height": 56, "data": {"name": "blank"}, "mark": {"type": "point", "opacity": 0},
   "encoding": {"x": {"field": "x", "type": "quantitative", "axis": null}, "y": {"field": "y", "type": "quantitative", "axis": null}}},
  {
    "width": 1210, "height": 360,
    "layer": [
      {"data": {"name": "mid"}, "mark": {"type": "line", "color": "#33cc33", "strokeWidth": 1.3},
       "encoding": {
         "x": {"field": "x", "type": "quantitative", "title": null, "scale": {"domain": [0, 1700], "nice": false, "zero": false}},
         "y": {"field": "tiltB", "type": "quantitative", "title": "Tilt (mm/m)", "scale": {"domain": [-4, 4], "nice": false, "zero": false},
               "axis": {"orient": "left", "values": [-4,-2,0,2,4], "labelExpr": "datum.value < 0 ? '-' + format(-datum.value, 'd') : format(datum.value, 'd')", "tickSize": 18, "labelPadding": 21, "grid": true, "titleX": -96, "titleY": 180, "titleAngle": 270, "titleAlign": "center", "titleBaseline": "middle"}}}},
      {"data": {"name": "tiltPred"}, "mark": {"type": "line", "color": "#ff0066", "strokeWidth": 4},
       "encoding": {
         "x": {"field": "x", "type": "quantitative", "title": null, "scale": {"domain": [0, 1700], "nice": false, "zero": false}},
         "y": {"field": "v", "type": "quantitative", "title": null, "scale": {"domain": [-4, 4], "nice": false, "zero": false},
               "axis": {"orient": "left", "values": [-3.5,-3,-2.5,-1.5,-1,-0.5,0.5,1,1.5,2.5,3,3.5], "tickSize": 9, "labels": false, "grid": false, "domain": false}}}},
      {"data": {"name": "mid"}, "mark": {"type": "line", "color": "#006633", "strokeWidth": 3.5},
       "encoding": {
         "x": {"field": "x", "type": "quantitative", "title": null, "scale": {"domain": [0, 1700], "nice": false, "zero": false}},
         "y": {"field": "tilt", "type": "quantitative", "title": null, "scale": {"domain": [-4, 4], "nice": false, "zero": false}, "axis": null}}},
      {"data": {"name": "mid"}, "mark": {"type": "point", "shape": "diamond", "filled": false, "color": "#006633", "strokeWidth": 1.5, "size": 100, "opacity": 1},
       "encoding": {
         "x": {"field": "x", "type": "quantitative", "title": null, "scale": {"domain": [0, 1700], "nice": false, "zero": false}},
         "y": {"field": "tilt", "type": "quantitative", "title": null, "scale": {"domain": [-4, 4], "nice": false, "zero": false}, "axis": null}}},
      {"data": {"values": [{"xs": 737, "ys": -2.73, "xe": 613.4, "ye": 1.38}, {"xs": 737, "ys": -2.73, "xe": 579.8, "ye": -3.13}]}, "mark": {"type": "rule", "color": "black", "strokeWidth": 1},
       "encoding": {
         "x": {"field": "xs", "type": "quantitative", "title": null, "scale": {"domain": [0, 1700], "nice": false, "zero": false}},
         "y": {"field": "ys", "type": "quantitative", "title": null, "scale": {"domain": [-4, 4], "nice": false, "zero": false}, "axis": null},
         "x2": {"field": "xe"}, "y2": {"field": "ye"}}},
      {"data": {"values": [{"xe": 613.4, "ye": 1.38}]}, "mark": {"type": "point", "shape": "M-0.5,1L0,0L0.5,1", "filled": false, "color": "black", "strokeWidth": 1.3, "size": 450, "opacity": 1, "angle": 335},
       "encoding": {
         "x": {"field": "xe", "type": "quantitative", "title": null, "scale": {"domain": [0, 1700], "nice": false, "zero": false}},
         "y": {"field": "ye", "type": "quantitative", "title": null, "scale": {"domain": [-4, 4], "nice": false, "zero": false}, "axis": null}}},
      {"data": {"values": [{"xe": 579.8, "ye": -3.13}]}, "mark": {"type": "point", "shape": "M-0.5,1L0,0L0.5,1", "filled": false, "color": "black", "strokeWidth": 1.3, "size": 450, "opacity": 1, "angle": 261},
       "encoding": {
         "x": {"field": "xe", "type": "quantitative", "title": null, "scale": {"domain": [0, 1700], "nice": false, "zero": false}},
         "y": {"field": "ye", "type": "quantitative", "title": null, "scale": {"domain": [-4, 4], "nice": false, "zero": false}, "axis": null}}},
      {"data": {"values": [{"x": 747, "y": -2.8, "label": "Anomaly"}]}, "mark": {"type": "text", "align": "left", "baseline": "middle", "fontSize": 26, "color": "black"},
       "encoding": {
         "x": {"field": "x", "type": "quantitative", "title": null, "scale": {"domain": [0, 1700], "nice": false, "zero": false}},
         "y": {"field": "y", "type": "quantitative", "title": null, "scale": {"domain": [-4, 4], "nice": false, "zero": false}, "axis": null},
         "text": {"field": "label"}}}
    ],
    "resolve": {"axis": {"y": "independent"}}
  },
  {"width": 1210, "height": 56, "data": {"name": "blank"}, "mark": {"type": "point", "opacity": 0},
   "encoding": {"x": {"field": "x", "type": "quantitative", "axis": null}, "y": {"field": "y", "type": "quantitative", "axis": null}}},
  {
    "width": 1210, "height": 377,
    "layer": [
      {"data": {"name": "inner"}, "mark": {"type": "line", "color": "#33cc33", "strokeWidth": 1.3},
       "encoding": {
         "x": {"field": "x", "type": "quantitative", "title": null, "scale": {"domain": [0, 1700], "nice": false, "zero": false}},
         "y": {"field": "curvB", "type": "quantitative", "title": "Curvature (km⁻¹)", "scale": {"domain": [-0.3, 0.3], "nice": false, "zero": false},
               "axis": {"orient": "left", "values": [-0.3,-0.2,-0.1,0,0.1,0.2,0.3], "labelExpr": "datum.value < 0 ? '-' + format(-datum.value, '.1f') : format(datum.value, '.1f')", "tickSize": 18, "labelPadding": 21, "grid": true, "titleX": -117.5, "titleY": 188.5, "titleAngle": 270, "titleAlign": "center", "titleBaseline": "middle"}}}},
      {"data": {"name": "curvPred"}, "mark": {"type": "line", "color": "#ff0066", "strokeWidth": 4},
       "encoding": {
         "x": {"field": "x", "type": "quantitative", "title": null, "scale": {"domain": [0, 1700], "nice": false, "zero": false}},
         "y": {"field": "v", "type": "quantitative", "title": null, "scale": {"domain": [-0.3, 0.3], "nice": false, "zero": false},
               "axis": {"orient": "left", "values": [-0.28,-0.26,-0.24,-0.22,-0.18,-0.16,-0.14,-0.12,-0.08,-0.06,-0.04,-0.02,0.02,0.04,0.06,0.08,0.12,0.14,0.16,0.18,0.22,0.24,0.26,0.28], "tickSize": 9, "labels": false, "grid": false, "domain": false}}}},
      {"data": {"name": "inner"}, "mark": {"type": "line", "color": "#006633", "strokeWidth": 3.5},
       "encoding": {
         "x": {"field": "x", "type": "quantitative", "title": null, "scale": {"domain": [0, 1700], "nice": false, "zero": false}},
         "y": {"field": "curv", "type": "quantitative", "title": null, "scale": {"domain": [-0.3, 0.3], "nice": false, "zero": false}, "axis": null}}},
      {"data": {"name": "inner"}, "mark": {"type": "point", "shape": "diamond", "filled": false, "color": "#006633", "strokeWidth": 1.5, "size": 100, "opacity": 1},
       "encoding": {
         "x": {"field": "x", "type": "quantitative", "title": null, "scale": {"domain": [0, 1700], "nice": false, "zero": false}},
         "y": {"field": "curv", "type": "quantitative", "title": null, "scale": {"domain": [-0.3, 0.3], "nice": false, "zero": false}, "axis": null}}},
      {"data": {"values": [{"xs": 732.4, "ys": -0.153, "xe": 597.9, "ye": 0.226}, {"xs": 732.4, "ys": -0.153, "xe": 620.1, "ye": -0.083}, {"xs": 732.4, "ys": -0.153, "xe": 582.5, "ye": -0.167}]}, "mark": {"type": "rule", "color": "black", "strokeWidth": 1},
       "encoding": {
         "x": {"field": "xs", "type": "quantitative", "title": null, "scale": {"domain": [0, 1700], "nice": false, "zero": false}},
         "y": {"field": "ys", "type": "quantitative", "title": null, "scale": {"domain": [-0.3, 0.3], "nice": false, "zero": false}, "axis": null},
         "x2": {"field": "xe"}, "y2": {"field": "ye"}}},
      {"data": {"values": [{"xe": 597.9, "ye": 0.226}]}, "mark": {"type": "point", "shape": "M-0.5,1L0,0L0.5,1", "filled": false, "color": "black", "strokeWidth": 1.3, "size": 450, "opacity": 1, "angle": 338},
       "encoding": {
         "x": {"field": "xe", "type": "quantitative", "title": null, "scale": {"domain": [0, 1700], "nice": false, "zero": false}},
         "y": {"field": "ye", "type": "quantitative", "title": null, "scale": {"domain": [-0.3, 0.3], "nice": false, "zero": false}, "axis": null}}},
      {"data": {"values": [{"xe": 620.1, "ye": -0.083}]}, "mark": {"type": "point", "shape": "M-0.5,1L0,0L0.5,1", "filled": false, "color": "black", "strokeWidth": 1.3, "size": 450, "opacity": 1, "angle": 299},
       "encoding": {
         "x": {"field": "xe", "type": "quantitative", "title": null, "scale": {"domain": [0, 1700], "nice": false, "zero": false}},
         "y": {"field": "ye", "type": "quantitative", "title": null, "scale": {"domain": [-0.3, 0.3], "nice": false, "zero": false}, "axis": null}}},
      {"data": {"values": [{"xe": 582.5, "ye": -0.167}]}, "mark": {"type": "point", "shape": "M-0.5,1L0,0L0.5,1", "filled": false, "color": "black", "strokeWidth": 1.3, "size": 450, "opacity": 1, "angle": 265},
       "encoding": {
         "x": {"field": "xe", "type": "quantitative", "title": null, "scale": {"domain": [0, 1700], "nice": false, "zero": false}},
         "y": {"field": "ye", "type": "quantitative", "title": null, "scale": {"domain": [-0.3, 0.3], "nice": false, "zero": false}, "axis": null}}},
      {"data": {"values": [{"x": 747, "y": -0.16, "label": "Anomaly"}]}, "mark": {"type": "text", "align": "left", "baseline": "middle", "fontSize": 26, "color": "black"},
       "encoding": {
         "x": {"field": "x", "type": "quantitative", "title": null, "scale": {"domain": [0, 1700], "nice": false, "zero": false}},
         "y": {"field": "y", "type": "quantitative", "title": null, "scale": {"domain": [-0.3, 0.3], "nice": false, "zero": false}, "axis": null},
         "text": {"field": "label"}}}
    ],
    "resolve": {"axis": {"y": "independent"}}
  },
  {"width": 1210, "height": 23, "data": {"name": "blank"}, "mark": {"type": "point", "opacity": 0},
   "encoding": {"x": {"field": "x", "type": "quantitative", "axis": null}, "y": {"field": "y", "type": "quantitative", "axis": null}}},
  {
    "width": 1210, "height": 28, "data": {"name": "lw"},
    "layer": [
      {"mark": {"type": "rect", "fill": "#fccccc", "stroke": "#ff0066", "strokeWidth": 2},
       "encoding": {"x": {"field": "start", "type": "quantitative", "title": "Distance along Monitoring Line (m)", "scale": {"domain": [0, 1700], "nice": false, "zero": false},
                          "axis": {"orient": "bottom", "offset": 49, "values": [0,100,200,300,400,500,600,700,800,900,1000,1100,1200,1300,1400,1500,1600,1700], "labelExpr": "datum.value % 200 === 0 ? format(datum.value, 'd') : ''", "tickSize": 18, "ticks": true, "labels": true, "domain": true, "grid": false, "labelPadding": 31, "labelBaseline": "middle", "titleY": 103, "titleBaseline": "middle"}},
                    "x2": {"field": "end"},
                    "y": {"field": "lo", "type": "quantitative", "title": null, "scale": {"domain": [0, 1], "nice": false, "zero": false}, "axis": null}, "y2": {"field": "hi"}}},
      {"mark": {"type": "text", "dy": 37, "fontSize": 26, "fontWeight": "bold", "color": "black", "align": "center", "baseline": "middle"},
       "encoding": {"x": {"field": "mid", "type": "quantitative", "title": null, "scale": {"domain": [0, 1700], "nice": false, "zero": false},
                          "axis": {"orient": "bottom", "offset": 49, "values": [20,40,60,80,120,140,160,180,220,240,260,280,320,340,360,380,420,440,460,480,520,540,560,580,620,640,660,680,720,740,760,780,820,840,860,880,920,940,960,980,1020,1040,1060,1080,1120,1140,1160,1180,1220,1240,1260,1280,1320,1340,1360,1380,1420,1440,1460,1480,1520,1540,1560,1580,1620,1640,1660,1680], "tickSize": 8, "ticks": true, "labels": false, "domain": false, "grid": false}},
                    "y": {"field": "c", "type": "quantitative", "title": null, "scale": {"domain": [0, 1], "nice": false, "zero": false}, "axis": null},
                    "text": {"field": "name"}}}
    ],
    "resolve": {"axis": {"x": "independent"}}
  }
]
}
